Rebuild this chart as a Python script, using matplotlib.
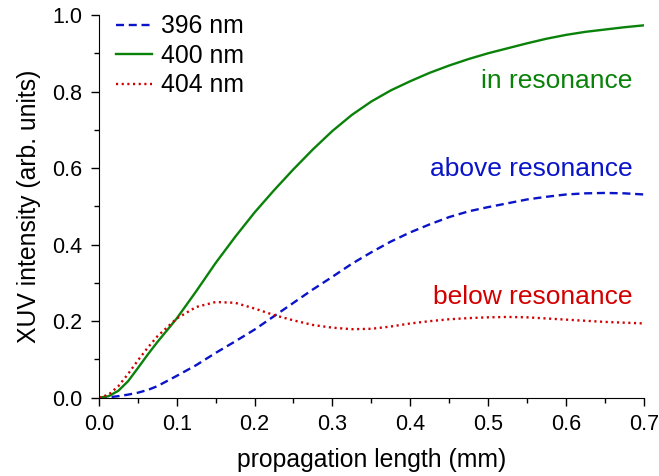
import numpy as np
import matplotlib.pyplot as plt
from matplotlib.ticker import MultipleLocator

plt.rcParams['font.family'] = ['Liberation Sans', 'DejaVu Sans']

# propagation length (mm), finer near the origin
length = np.concatenate([[0.0, 0.0125, 0.025, 0.0375, 0.05, 0.0625],
                         np.arange(3, 29) * 0.025])

# XUV intensity
i_396 = [0.0, 0.001, 0.004, 0.008, 0.013, 0.02,
         0.03, 0.057, 0.085, 0.117, 0.147, 0.178, 0.213,
         0.248, 0.283, 0.316, 0.35, 0.38, 0.408, 0.432, 0.453, 0.472, 0.487,
         0.498, 0.508, 0.518, 0.525, 0.531, 0.534, 0.535, 0.534, 0.531]
i_400 = [0.0, 0.004, 0.018, 0.043, 0.077, 0.112,
         0.145, 0.207, 0.278, 0.352, 0.42, 0.484, 0.542,
         0.597, 0.649, 0.697, 0.739, 0.774, 0.803, 0.827, 0.849, 0.868, 0.885,
         0.9, 0.913, 0.926, 0.938, 0.948, 0.956, 0.962, 0.968, 0.973]
i_404 = [0.0, 0.008, 0.03, 0.062, 0.097, 0.13,
         0.16, 0.207, 0.237, 0.25, 0.248, 0.233, 0.216,
         0.202, 0.19, 0.183, 0.179, 0.18, 0.186, 0.194, 0.2, 0.205, 0.208,
         0.21, 0.211, 0.21, 0.207, 0.204, 0.201, 0.198, 0.196, 0.194]

blue = '#0a14c8'
green = '#0a820a'
red = '#d20000'


def main():
    fig = plt.figure(figsize=(6.59, 4.76), dpi=100)
    ax = fig.add_axes([0.150, 0.1645, 0.827, 0.804])

    ax.plot(length, i_396, color=blue, lw=1.7, dashes=(3.4, 2.0), label='396 nm')
    ax.plot(length, i_400, color=green, lw=1.7, label='400 nm')
    ax.plot(length, i_404, color=red, lw=1.7, dashes=(0.9, 1.5), label='404 nm')

    ax.text(0.685, 0.808, 'in resonance', color=green, fontsize=19,
            ha='right', va='baseline')
    ax.text(0.685, 0.580, 'above resonance', color=blue, fontsize=19,
            ha='right', va='baseline')
    ax.text(0.685, 0.246, 'below resonance', color=red, fontsize=19,
            ha='right', va='baseline')

    ax.set_xlim(0, 0.7)
    ax.set_ylim(0, 1.0)
    ax.xaxis.set_major_locator(MultipleLocator(0.1))
    ax.xaxis.set_minor_locator(MultipleLocator(0.05))
    ax.yaxis.set_major_locator(MultipleLocator(0.2))
    ax.yaxis.set_minor_locator(MultipleLocator(0.1))
    ax.tick_params(which='major', direction='out', length=6, width=1,
                   labelsize=15.5, pad=6)
    ax.tick_params(which='minor', direction='out', length=3.5, width=1)
    ax.spines['top'].set_visible(False)
    ax.spines['right'].set_visible(False)

    ax.set_xlabel('propagation length (mm)', fontsize=17.8, labelpad=9)
    ax.set_ylabel('XUV intensity (arb. units)', fontsize=17.8, labelpad=8)

    ax.legend(loc='upper left', frameon=False, fontsize=17.8, handlelength=1.45,
              handletextpad=0.36, labelspacing=0.22,
              bbox_to_anchor=(-0.009, 1.06))

    fig.savefig('out.png', dpi=100)


if __name__ == "__main__":
    main()
